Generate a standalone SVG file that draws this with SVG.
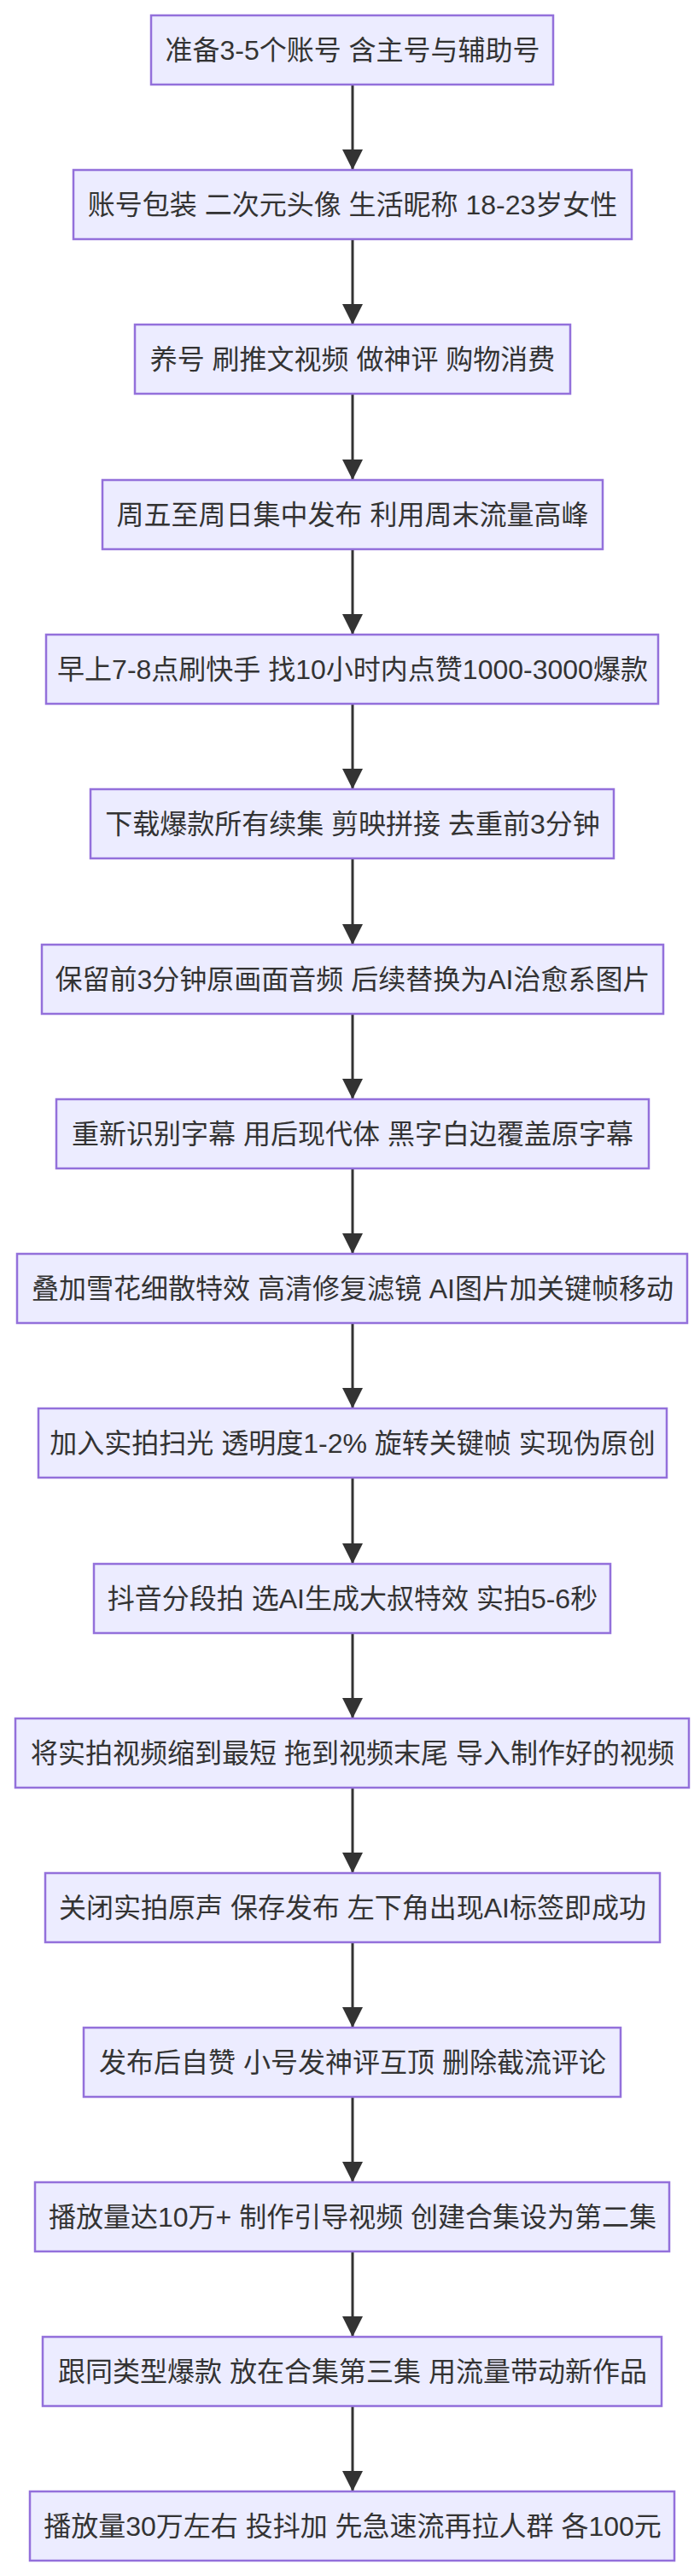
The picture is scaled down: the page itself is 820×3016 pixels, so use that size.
<svg xmlns="http://www.w3.org/2000/svg" width="820" height="3016" viewBox="0 0 820 3016">
<style>
.n rect{fill:#ECECFF;stroke:#9370DB;stroke-width:2.5}
.n text{font-family:"Liberation Sans","Noto Sans CJK SC",sans-serif;font-size:32px;fill:#333;text-anchor:middle;dominant-baseline:central}
.e line{stroke:#333;stroke-width:3}
</style>
<defs><marker id="ah" markerUnits="userSpaceOnUse" markerWidth="24" markerHeight="24" refX="24" refY="12" orient="auto"><path d="M0,0 L24,12 L0,24 z" fill="#333"/></marker></defs>
<rect width="820" height="3016" fill="#fff"/>
<g id="edges" class="e">
<line x1="413" y1="99" x2="413" y2="199" marker-end="url(#ah)"/>
<line x1="413" y1="280" x2="413" y2="380" marker-end="url(#ah)"/>
<line x1="413" y1="461" x2="413" y2="562" marker-end="url(#ah)"/>
<line x1="413" y1="643" x2="413" y2="743" marker-end="url(#ah)"/>
<line x1="413" y1="824" x2="413" y2="924" marker-end="url(#ah)"/>
<line x1="413" y1="1005" x2="413" y2="1106" marker-end="url(#ah)"/>
<line x1="413" y1="1187" x2="413" y2="1287" marker-end="url(#ah)"/>
<line x1="413" y1="1368" x2="413" y2="1468" marker-end="url(#ah)"/>
<line x1="413" y1="1549" x2="413" y2="1649" marker-end="url(#ah)"/>
<line x1="413" y1="1730" x2="413" y2="1831" marker-end="url(#ah)"/>
<line x1="413" y1="1912" x2="413" y2="2012" marker-end="url(#ah)"/>
<line x1="413" y1="2093" x2="413" y2="2193" marker-end="url(#ah)"/>
<line x1="413" y1="2274" x2="413" y2="2374" marker-end="url(#ah)"/>
<line x1="413" y1="2455" x2="413" y2="2555" marker-end="url(#ah)"/>
<line x1="413" y1="2636" x2="413" y2="2736" marker-end="url(#ah)"/>
<line x1="413" y1="2817" x2="413" y2="2917" marker-end="url(#ah)"/>
</g>
<g id="n1" class="n"><rect x="177" y="18" width="471" height="81"/><text x="413" y="58.5">准备3-5个账号 含主号与辅助号</text></g>
<g id="n2" class="n"><rect x="86" y="199" width="654" height="81"/><text x="413" y="239.5">账号包装 二次元头像 生活昵称 18-23岁女性</text></g>
<g id="n3" class="n"><rect x="158" y="380" width="510" height="81"/><text x="413" y="420.5">养号 刷推文视频 做神评 购物消费</text></g>
<g id="n4" class="n"><rect x="120" y="562" width="586" height="81"/><text x="413" y="602.5">周五至周日集中发布 利用周末流量高峰</text></g>
<g id="n5" class="n"><rect x="54" y="743" width="717" height="81"/><text x="413" y="783.5">早上7-8点刷快手 找10小时内点赞1000-3000爆款</text></g>
<g id="n6" class="n"><rect x="106" y="924" width="613" height="81"/><text x="413" y="964.5">下载爆款所有续集 剪映拼接 去重前3分钟</text></g>
<g id="n7" class="n"><rect x="49" y="1106" width="728" height="81"/><text x="413" y="1146.5">保留前3分钟原画面音频 后续替换为AI治愈系图片</text></g>
<g id="n8" class="n"><rect x="66" y="1287" width="694" height="81"/><text x="413" y="1327.5">重新识别字幕 用后现代体 黑字白边覆盖原字幕</text></g>
<g id="n9" class="n"><rect x="20" y="1468" width="785" height="81"/><text x="413" y="1508.5">叠加雪花细散特效 高清修复滤镜 AI图片加关键帧移动</text></g>
<g id="n10" class="n"><rect x="45" y="1649" width="736" height="81"/><text x="413" y="1689.5">加入实拍扫光 透明度1-2% 旋转关键帧 实现伪原创</text></g>
<g id="n11" class="n"><rect x="110" y="1831" width="605" height="81"/><text x="413" y="1871.5">抖音分段拍 选AI生成大叔特效 实拍5-6秒</text></g>
<g id="n12" class="n"><rect x="18" y="2012" width="789" height="81"/><text x="413" y="2052.5">将实拍视频缩到最短 拖到视频末尾 导入制作好的视频</text></g>
<g id="n13" class="n"><rect x="53" y="2193" width="720" height="81"/><text x="413" y="2233.5">关闭实拍原声 保存发布 左下角出现AI标签即成功</text></g>
<g id="n14" class="n"><rect x="98" y="2374" width="629" height="81"/><text x="413" y="2414.5">发布后自赞 小号发神评互顶 删除截流评论</text></g>
<g id="n15" class="n"><rect x="41" y="2555" width="743" height="81"/><text x="413" y="2595.5">播放量达10万+ 制作引导视频 创建合集设为第二集</text></g>
<g id="n16" class="n"><rect x="50" y="2736" width="725" height="81"/><text x="413" y="2776.5">跟同类型爆款 放在合集第三集 用流量带动新作品</text></g>
<g id="n17" class="n"><rect x="35" y="2917" width="755" height="81"/><text x="413" y="2957.5">播放量30万左右 投抖加 先急速流再拉人群 各100元</text></g>
</svg>
